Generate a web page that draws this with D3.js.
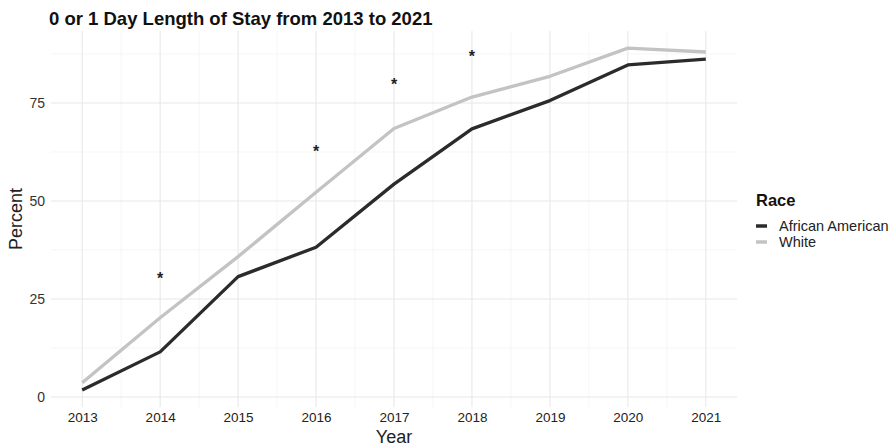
<!DOCTYPE html>
<html>
<head>
<meta charset="utf-8">
<script src="https://cdn.jsdelivr.net/npm/d3@7"></script>
<style>
  body { margin: 0; background: #fff; }
  svg { font-family: "Liberation Sans", Arial, sans-serif; }
</style>
</head>
<body>
<svg id="chart" width="896" height="446"></svg>
<script>
// data
const years = [2013, 2014, 2015, 2016, 2017, 2018, 2019, 2020, 2021];
const africanAmerican = [1.8, 11.5, 30.7, 38.2, 54.3, 68.4, 75.6, 84.7, 86.2];
const white = [3.6, 20.2, 35.8, 52.2, 68.5, 76.5, 81.8, 89.0, 88.0];
const starYears = [2014, 2016, 2017, 2018];
const starValues = [30.9, 63.3, 80.4, 87.5];
const yTicks = [0, 25, 50, 75];
const yMinor = [12.5, 37.5, 62.5, 87.5];

const series = [
  {name: "African American", values: africanAmerican, color: "#2b2b2b"},
  {name: "White", values: white, color: "#c3c3c3"}
];

const svg = d3.select("#chart");

const x = d3.scaleLinear().domain([2012.6, 2021.4]).range([51, 737]);
const y = d3.scaleLinear().domain([-2.56, 93.36]).range([407, 31]);

// grid
let grid = svg.append("g");
grid.selectAll(".ymin").data(yMinor).join("line")
  .attr("x1", x.range()[0]).attr("x2", x.range()[1])
  .attr("y1", d => y(d)).attr("y2", d => y(d))
  .attr("stroke", "#f2f2f2").attr("stroke-width", 0.8);
grid.selectAll(".xmin").data(years.slice(0, -1).map(d => d + 0.5)).join("line")
  .attr("y1", y.range()[0]).attr("y2", y.range()[1])
  .attr("x1", d => x(d)).attr("x2", d => x(d))
  .attr("stroke", "#f2f2f2").attr("stroke-width", 0.8);
grid.selectAll(".ymaj").data(yTicks).join("line")
  .attr("x1", x.range()[0]).attr("x2", x.range()[1])
  .attr("y1", d => y(d)).attr("y2", d => y(d))
  .attr("stroke", "#e8e8e8").attr("stroke-width", 1.1);
grid.selectAll(".xmaj").data(years).join("line")
  .attr("y1", y.range()[0]).attr("y2", y.range()[1])
  .attr("x1", d => x(d)).attr("x2", d => x(d))
  .attr("stroke", "#e8e8e8").attr("stroke-width", 1.1);

// axes (no domain lines, no ticks, like theme_minimal)
let yAxis = svg.append("g").attr("transform", "translate(" + x.range()[0] + ",0)")
  .call(d3.axisLeft(y).tickValues(yTicks).tickSize(0).tickPadding(6));
yAxis.select(".domain").remove();
yAxis.selectAll("text").attr("font-size", 14).attr("fill", "#333")
  .attr("font-family", "Liberation Sans, Arial, sans-serif");

let xAxis = svg.append("g").attr("transform", "translate(0," + y.range()[0] + ")")
  .call(d3.axisBottom(x).tickValues(years).tickFormat(d3.format("d")).tickSize(0).tickPadding(5));
xAxis.select(".domain").remove();
xAxis.selectAll("text").attr("font-size", 13.5).attr("fill", "#222")
  .attr("font-family", "Liberation Sans, Arial, sans-serif");

// lines
const line = d3.line().x((d, i) => x(years[i])).y(d => y(d));
svg.selectAll(".series").data(series).join("path")
  .attr("d", d => line(d.values))
  .attr("fill", "none")
  .attr("stroke", d => d.color)
  .attr("stroke-width", 3.3)
  .attr("stroke-linejoin", "round");

// significance stars
svg.selectAll(".star").data(starYears).join("text")
  .attr("x", d => x(d))
  .attr("y", (d, i) => y(starValues[i]) + 8)
  .attr("text-anchor", "middle")
  .attr("font-size", 16).attr("font-weight", "bold").attr("fill", "#222")
  .text("*");

// titles
svg.append("text").attr("x", 49).attr("y", 25)
  .attr("font-size", 18.5).attr("font-weight", "bold").attr("fill", "#111")
  .text("0 or 1 Day Length of Stay from 2013 to 2021");
svg.append("text").attr("x", (x.range()[0] + x.range()[1]) / 2).attr("y", 443)
  .attr("text-anchor", "middle").attr("font-size", 18).attr("fill", "#222")
  .text("Year");
svg.append("text")
  .attr("transform", "translate(22," + ((y.range()[0] + y.range()[1]) / 2) + ") rotate(-90)")
  .attr("text-anchor", "middle").attr("font-size", 18).attr("fill", "#222")
  .text("Percent");

// legend
let legend = svg.append("g").attr("transform", "translate(756,0)");
legend.append("text").attr("x", 0).attr("y", 206)
  .attr("font-size", 16.5).attr("font-weight", "bold").attr("fill", "#111")
  .text("Race");
let keys = legend.selectAll(".key").data(series).join("g")
  .attr("transform", (d, i) => "translate(0," + (226 + i * 16) + ")");
keys.append("line").attr("x1", 0).attr("x2", 11)
  .attr("stroke", d => d.color).attr("stroke-width", 3.5);
keys.append("text").attr("x", 23).attr("y", 5)
  .attr("font-size", 14.5).attr("fill", "#222")
  .text(d => d.name);
</script>
</body>
</html>
